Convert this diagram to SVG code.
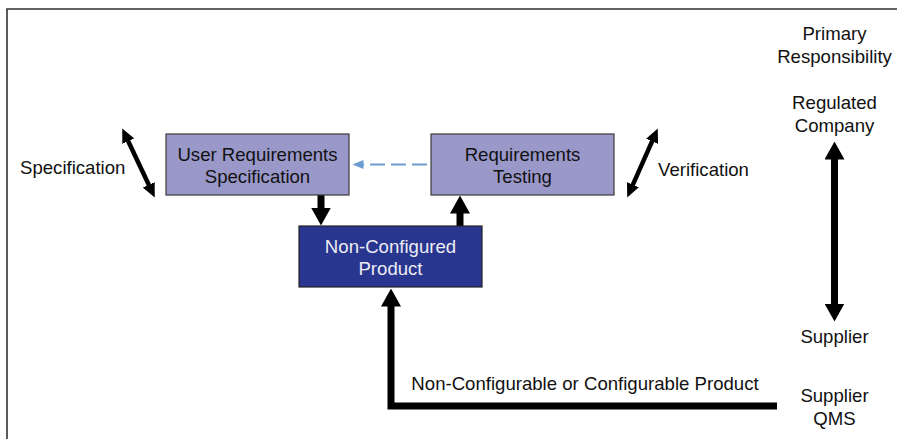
<svg xmlns="http://www.w3.org/2000/svg" width="897" height="439" viewBox="0 0 897 439">
  <style>
    .txt { font-family: "Liberation Sans", Arial, sans-serif; font-size: 18.6px; fill: #111; text-anchor: middle; }
    .lt { text-anchor: start; }
    .inv { fill: #ECECF4; }
    .box { fill: #9A98C9; stroke: #3a3a3a; stroke-width: 1.2; }
    .dark { fill: #29368F; stroke: #222; stroke-width: 1.2; }
    .thick { fill: none; stroke: #000; stroke-width: 7; stroke-linejoin: miter; }
    .mid { fill: none; stroke: #000; stroke-width: 4.5; }
    .dash { fill: none; stroke: #6C9BD0; stroke-width: 2.2; stroke-dasharray: 15 6; }
  </style>
  <defs>
    <marker id="headBig" markerUnits="userSpaceOnUse" viewBox="0 0 18 20" markerWidth="18" markerHeight="20" refX="0.5" refY="10" orient="auto-start-reverse">
      <path d="M0,0 L18,10 L0,20 z" fill="#000"/>
    </marker>
    <marker id="headMid" markerUnits="userSpaceOnUse" viewBox="0 0 14 13" markerWidth="14" markerHeight="13" refX="0.5" refY="6.5" orient="auto-start-reverse">
      <path d="M0,0 L14,6.5 L0,13 z" fill="#000"/>
    </marker>
    <marker id="headBlue" markerUnits="userSpaceOnUse" viewBox="0 0 11 9" markerWidth="11" markerHeight="9" refX="0.5" refY="4.5" orient="auto">
      <path d="M0,0 L11,4.5 L0,9 z" fill="#6C9BD0"/>
    </marker>
  </defs>

  <!-- frame -->
  <path d="M7,439 V9 H897" fill="none" stroke="#333" stroke-width="1.6"/>

  <!-- connectors -->
  <g id="connectors">
    <line class="thick" x1="321" y1="195" x2="321" y2="208" marker-end="url(#headBig)"/>
    <line class="thick" x1="460" y1="226" x2="460" y2="213" marker-end="url(#headBig)"/>
    <path class="thick" d="M777,406 H391 V306" marker-end="url(#headBig)"/>
    <line class="dash" x1="427" y1="164.5" x2="363" y2="164.5" marker-end="url(#headBlue)"/>
    <line class="thick" x1="834.5" y1="159" x2="834.5" y2="304" marker-start="url(#headBig)" marker-end="url(#headBig)"/>
    <line class="mid" x1="128" y1="140.7" x2="149" y2="185.3" marker-start="url(#headMid)" marker-end="url(#headMid)"/>
    <line class="mid" x1="652.3" y1="140.8" x2="632.7" y2="185.2" marker-start="url(#headMid)" marker-end="url(#headMid)"/>
  </g>

  <!-- nodes -->
  <g id="urs">
    <rect class="box" x="166" y="134" width="183" height="61"/>
    <text class="txt" x="257.5" y="160.5">User Requirements</text>
    <text class="txt" x="257.5" y="183">Specification</text>
  </g>
  <g id="req-testing">
    <rect class="box" x="431" y="134" width="183" height="61"/>
    <text class="txt" x="522.5" y="160.5">Requirements</text>
    <text class="txt" x="522.5" y="183">Testing</text>
  </g>
  <g id="non-configured">
    <rect class="dark" x="299" y="226" width="183" height="61"/>
    <text class="txt inv" x="390.5" y="252.5">Non-Configured</text>
    <text class="txt inv" x="390.5" y="275">Product</text>
  </g>

  <!-- labels -->
  <g id="labels">
    <text class="txt lt" x="20" y="173.5">Specification</text>
    <text class="txt lt" x="658" y="176">Verification</text>
    <text class="txt" x="834.5" y="40">Primary</text>
    <text class="txt" x="834.5" y="62.5">Responsibility</text>
    <text class="txt" x="834.5" y="109">Regulated</text>
    <text class="txt" x="834.5" y="131.5">Company</text>
    <text class="txt" x="834.5" y="343">Supplier</text>
    <text class="txt" x="834.5" y="402">Supplier</text>
    <text class="txt" x="834.5" y="424.5">QMS</text>
    <text class="txt" x="585" y="390">Non-Configurable or Configurable Product</text>
  </g>
</svg>
